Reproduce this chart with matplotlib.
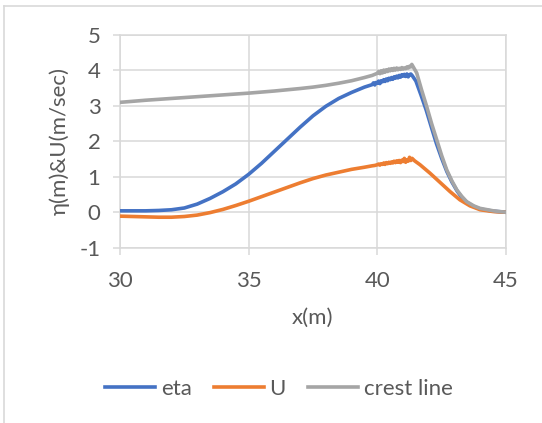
import matplotlib.pyplot as plt
from matplotlib.lines import Line2D

plt.rcParams['font.family'] = ['Lato', 'DejaVu Sans']
plt.rcParams['axes.unicode_minus'] = False

# ---------------------------------------------------------
# DATA
# ---------------------------------------------------------
eta_x = [30, 30.5, 31, 31.5, 32, 32.5, 33, 33.5, 34, 34.5, 35, 35.5, 36, 36.5,
         37, 37.5, 38, 38.5, 39, 39.5, 39.8, 39.85, 39.9, 39.95, 40, 40.05,
         40.1, 40.15, 40.2, 40.25, 40.3, 40.35, 40.4, 40.45, 40.5, 40.55,
         40.6, 40.65, 40.7, 40.75, 40.8, 40.85, 40.9, 40.95, 41, 41.05, 41.1,
         41.15, 41.2, 41.25, 41.3, 41.35, 41.5, 41.7, 41.9, 42.1, 42.3, 42.5,
         42.7, 42.9, 43.1, 43.3, 43.5, 43.75, 44, 44.5, 45]
eta_y = [0.04, 0.04, 0.04, 0.05, 0.07, 0.12, 0.23, 0.39, 0.58, 0.80, 1.07,
         1.38, 1.72, 2.06, 2.40, 2.72, 2.99, 3.21, 3.38, 3.53, 3.60, 3.65,
         3.59, 3.66, 3.64, 3.70, 3.63, 3.71, 3.68, 3.74, 3.69, 3.76, 3.71,
         3.78, 3.74, 3.80, 3.75, 3.82, 3.78, 3.84, 3.79, 3.86, 3.81, 3.88,
         3.84, 3.89, 3.83, 3.90, 3.82, 3.88, 3.90, 3.86, 3.70, 3.30, 2.88,
         2.40, 1.93, 1.52, 1.15, 0.85, 0.60, 0.40, 0.27, 0.16, 0.09, 0.03, 0.0]

u_x = [30, 30.5, 31, 31.5, 32, 32.5, 33, 33.5, 34, 34.5, 35, 35.5, 36, 36.5,
       37, 37.5, 38, 38.5, 39, 39.5, 39.8, 39.9, 40, 40.05, 40.1, 40.15, 40.2,
       40.25, 40.3, 40.35, 40.4, 40.45, 40.5, 40.55, 40.6, 40.65, 40.7, 40.75,
       40.8, 40.85, 40.9, 40.95, 41, 41.05, 41.1, 41.15, 41.2, 41.25, 41.3,
       41.35, 41.45, 41.66, 42.05, 42.44, 42.83, 43.21, 43.6, 44, 44.5, 45]
u_y = [-0.11, -0.12, -0.13, -0.14, -0.14, -0.12, -0.08, -0.01, 0.08, 0.19,
       0.31, 0.44, 0.57, 0.70, 0.83, 0.95, 1.05, 1.13, 1.21, 1.27, 1.31, 1.32,
       1.34, 1.36, 1.33, 1.37, 1.35, 1.39, 1.35, 1.40, 1.37, 1.41, 1.38, 1.42,
       1.39, 1.44, 1.40, 1.45, 1.41, 1.46, 1.40, 1.47, 1.43, 1.52, 1.41, 1.48,
       1.44, 1.55, 1.46, 1.52, 1.45, 1.34, 1.10, 0.84, 0.58, 0.35, 0.18, 0.07,
       0.02, 0.0]

crest_x = [30, 31, 32, 33, 34, 35, 36, 37, 37.5, 38, 38.5, 39, 39.5, 39.8,
           39.9, 40, 40.05, 40.1, 40.15, 40.2, 40.25, 40.3, 40.35, 40.4, 40.45,
           40.5, 40.55, 40.6, 40.65, 40.7, 40.75, 40.8, 40.85, 40.9, 40.95, 41,
           41.05, 41.1, 41.15, 41.2, 41.25, 41.3, 41.34, 41.53, 41.72, 41.92,
           42.11, 42.31, 42.5, 42.7, 42.9, 43.09, 43.28, 43.47, 43.75, 43.99,
           44.51, 45]
crest_y = [3.10, 3.16, 3.21, 3.26, 3.31, 3.36, 3.42, 3.49, 3.53, 3.58, 3.64,
           3.71, 3.80, 3.86, 3.89, 3.92, 3.97, 3.91, 3.99, 3.93, 4.01, 3.95,
           4.02, 3.97, 4.04, 3.99, 4.05, 4.00, 4.06, 4.01, 4.07, 4.02, 4.06,
           4.03, 4.08, 4.04, 4.07, 4.05, 4.10, 4.07, 4.12, 4.10, 4.17, 3.93,
           3.45, 2.98, 2.50, 2.04, 1.60, 1.19, 0.88, 0.63, 0.45, 0.30, 0.18,
           0.11, 0.04, 0.0]

x_ticks = [30, 35, 40, 45]
y_ticks = [-1, 0, 1, 2, 3, 4, 5]

BLUE = "#4472C4"
ORANGE = "#ED7D31"
GRAY = "#A5A5A5"
GRID = "#D9D9D9"
TEXT = "#595959"
FS = 16

# ---------------------------------------------------------
# FIGURE
# ---------------------------------------------------------
fig = plt.figure(figsize=(5.42, 4.23), dpi=100)
ax = fig.add_axes([120 / 542, 1 - 247.7 / 423, 386 / 542, 212.7 / 423])

lw = 2.6
ax.plot(eta_x, eta_y, color=BLUE, lw=lw, solid_joinstyle="round", zorder=3)
ax.plot(u_x, u_y, color=ORANGE, lw=lw, solid_joinstyle="round", zorder=3)
ax.plot(crest_x, crest_y, color=GRAY, lw=lw, solid_joinstyle="round", zorder=4)

ax.set_xlim(30, 45)
ax.set_ylim(-1, 5)
ax.set_xticks(x_ticks)
ax.set_yticks(y_ticks)
ax.grid(True, color=GRID, lw=1.1, zorder=0)
for s in ax.spines.values():
    s.set_color(GRID)
    s.set_linewidth(1.1)
ax.tick_params(axis="both", length=5, width=1.1, color=GRID,
               labelcolor=TEXT, labelsize=FS)
ax.tick_params(axis="x", pad=12)
ax.tick_params(axis="y", pad=9)

ax.set_xlabel("x(m)", color=TEXT, fontsize=FS, labelpad=12)
ax.set_ylabel("η(m)&U(m/sec)", color=TEXT, fontsize=FS, labelpad=7)

handles = [Line2D([], [], color=c, lw=lw) for c in (BLUE, ORANGE, GRAY)]
leg = fig.legend(handles, ["eta", "U", "crest line"], loc="center",
                 bbox_to_anchor=(279 / 542, 1 - 389 / 423), ncol=3,
                 frameon=False, fontsize=FS, handlelength=2.25,
                 handletextpad=0.25, columnspacing=1.0, labelcolor=TEXT)

# chart border (left and top visible in the reference)
fig.add_artist(Line2D([4 / 542, 4 / 542], [0, 1 - 6 / 423], color=GRID, lw=1.2))
fig.add_artist(Line2D([4 / 542, 1], [1 - 6 / 423, 1 - 6 / 423], color=GRID, lw=1.2))

fig.savefig("out.png", dpi=100)
